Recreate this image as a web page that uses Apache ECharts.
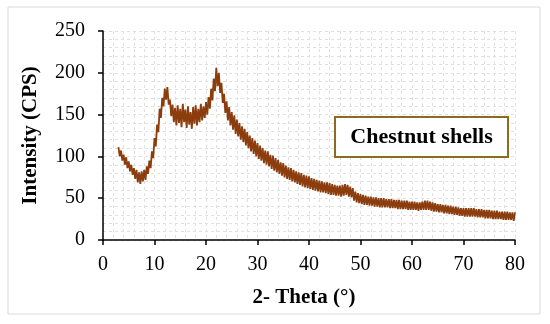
<!DOCTYPE html>
<html>
<head>
<meta charset="utf-8">
<script src="https://cdn.jsdelivr.net/npm/echarts@6/dist/echarts.min.js"></script>
<style>html,body{margin:0;padding:0;background:#fff;}#c{width:550px;height:324px;}</style>
</head>
<body>
<div id="c"></div>
<script>
const xTicks = [0, 10, 20, 30, 40, 50, 60, 70, 80];
const yTicks = [0, 50, 100, 150, 200, 250];
const seriesName = 'Chestnut shells';
const theta = [
3,3.25,3.5,3.75,4,4.25,4.5,4.75,5,5.25,5.5,5.75,6,6.25,6.5,6.75,7,7.25,7.5,7.75,
8,8.25,8.5,8.75,9,9.25,9.5,9.75,10,10.25,10.5,10.75,11,11.25,11.5,11.75,12,12.25,12.5,12.75,
13,13.25,13.5,13.75,14,14.25,14.5,14.75,15,15.25,15.5,15.75,16,16.25,16.5,16.75,17,17.25,17.5,17.75,
18,18.25,18.5,18.75,19,19.25,19.5,19.75,20,20.25,20.5,20.75,21,21.25,21.5,21.75,22,22.25,22.5,22.75,
23,23.25,23.5,23.75,24,24.25,24.5,24.75,25,25.25,25.5,25.75,26,26.25,26.5,26.75,27,27.25,27.5,27.75,
28,28.25,28.5,28.75,29,29.25,29.5,29.75,30,30.25,30.5,30.75,31,31.25,31.5,31.75,32,32.25,32.5,32.75,
33,33.25,33.5,33.75,34,34.25,34.5,34.75,35,35.25,35.5,35.75,36,36.25,36.5,36.75,37,37.25,37.5,37.75,
38,38.25,38.5,38.75,39,39.25,39.5,39.75,40,40.25,40.5,40.75,41,41.25,41.5,41.75,42,42.25,42.5,42.75,
43,43.25,43.5,43.75,44,44.25,44.5,44.75,45,45.25,45.5,45.75,46,46.25,46.5,46.75,47,47.25,47.5,47.75,
48,48.25,48.5,48.75,49,49.25,49.5,49.75,50,50.25,50.5,50.75,51,51.25,51.5,51.75,52,52.25,52.5,52.75,
53,53.25,53.5,53.75,54,54.25,54.5,54.75,55,55.25,55.5,55.75,56,56.25,56.5,56.75,57,57.25,57.5,57.75,
58,58.25,58.5,58.75,59,59.25,59.5,59.75,60,60.25,60.5,60.75,61,61.25,61.5,61.75,62,62.25,62.5,62.75,
63,63.25,63.5,63.75,64,64.25,64.5,64.75,65,65.25,65.5,65.75,66,66.25,66.5,66.75,67,67.25,67.5,67.75,
68,68.25,68.5,68.75,69,69.25,69.5,69.75,70,70.25,70.5,70.75,71,71.25,71.5,71.75,72,72.25,72.5,72.75,
73,73.25,73.5,73.75,74,74.25,74.5,74.75,75,75.25,75.5,75.75,76,76.25,76.5,76.75,77,77.25,77.5,77.75,
78,78.25,78.5,78.75,79,79.25,79.5,79.75,80
];
const intensity = [
111,100,107,95,102,90,99,86,94,82,90,78,86,73,84,69,81,67,82,70,
84,72,88,79,95,86,106,98,122,112,138,129,157,146,170,160,181,168,183,162,
168,148,162,141,158,137,161,140,157,135,163,141,156,134,160,138,153,133,159,139,
161,137,157,141,163,143,160,146,165,150,171,157,181,167,193,178,206,184,200,176,
188,164,175,152,166,143,159,137,153,132,149,127,144,124,140,120,136,117,133,113,
129,110,125,106,122,103,119,100,116,97,113,95,110,92,107,90,106,88,102,85,
101,83,98,81,96,79,93,77,92,75,89,73,87,72,86,70,84,69,82,67,
81,66,80,64,78,63,77,62,76,61,74,60,73,59,72,58,71,57,70,57,
69,56,69,55,68,54,67,54,66,53,65,53,65,52,66,53,67,54,66,52,
64,51,62,47,58,45,56,44,55,43,54,42,53,42,52,41,52,41,51,40,
51,40,50,39,50,39,50,39,49,39,49,38,49,38,48,38,48,37,48,37,
47,37,47,37,47,36,46,36,46,36,46,36,45,35,45,36,46,36,47,36,
47,36,46,35,45,34,44,34,43,33,43,33,42,32,42,32,41,31,41,31,
40,30,40,30,39,29,38,29,38,28,38,28,38,28,38,28,38,28,37,27,
37,27,37,27,36,26,36,26,36,26,35,25,35,25,35,25,34,25,34,24,
34,24,34,24,33,24,33,23,33
];
const data = theta.map((t, i) => [t, intensity[i]]);

const chart = echarts.init(document.getElementById('c'), null, {renderer: 'canvas'});
const font = 'Liberation Serif';
const gridLine = {show: true, lineStyle: {color: '#e0e0e0', type: [3, 3], width: 1}};
chart.setOption({
  animation: false,
  backgroundColor: '#fff',
  grid: {left: 103, right: 35, top: 31, bottom: 84, containLabel: false},
  xAxis: {
    type: 'value', min: 0, max: 80, interval: 10,
    name: '2- Theta (°)', nameLocation: 'middle', nameGap: 47,
    nameTextStyle: {fontFamily: font, fontSize: 21, fontWeight: 'bold', color: '#000', padding: [0, 10, 0, 0]},
    axisLine: {lineStyle: {color: '#000', width: 1.5}},
    axisTick: {show: true, length: 5, lineStyle: {color: '#000', width: 1.5}},
    axisLabel: {fontFamily: font, fontSize: 20, color: '#000', margin: 15,
      formatter: v => xTicks.includes(v) ? String(v) : ''},
    splitLine: gridLine,
    minorTick: {show: false, splitNumber: 5},
    minorSplitLine: gridLine
  },
  yAxis: {
    type: 'value', min: 0, max: 250, interval: 50,
    name: 'Intensity (CPS)', nameLocation: 'middle', nameGap: 62,
    nameTextStyle: {fontFamily: font, fontSize: 21, fontWeight: 'bold', color: '#000'},
    axisLine: {show: true, lineStyle: {color: '#000', width: 1.5}},
    axisTick: {show: true, length: 5, lineStyle: {color: '#000', width: 1.5}},
    axisLabel: {fontFamily: font, fontSize: 20, color: '#000', margin: 18,
      formatter: v => yTicks.includes(v) ? String(v) : ''},
    splitLine: gridLine,
    minorTick: {show: false, splitNumber: 5},
    minorSplitLine: gridLine
  },
  series: [{
    name: seriesName, type: 'line', data: data, showSymbol: false, symbol: 'none',
    lineStyle: {color: '#8B3D0E', width: 1.8}, z: 5
  }],
  graphic: [
    {type: 'rect', x: 8, y: 7, shape: {width: 532, height: 307},
      style: {fill: 'none', stroke: '#d9d9d9', lineWidth: 1}, z: 0, silent: true},
    {type: 'rect', x: 335, y: 117, shape: {width: 173, height: 40},
      style: {fill: '#fff', stroke: '#8C6A1E', lineWidth: 2}, z: 10},
    {type: 'text', x: 421.5, y: 137,
      style: {text: seriesName, fontFamily: font, fontSize: 22, fontWeight: 'bold', fill: '#000',
        textAlign: 'center', textVerticalAlign: 'middle'}, z: 11}
  ]
});
</script>
</body>
</html>
